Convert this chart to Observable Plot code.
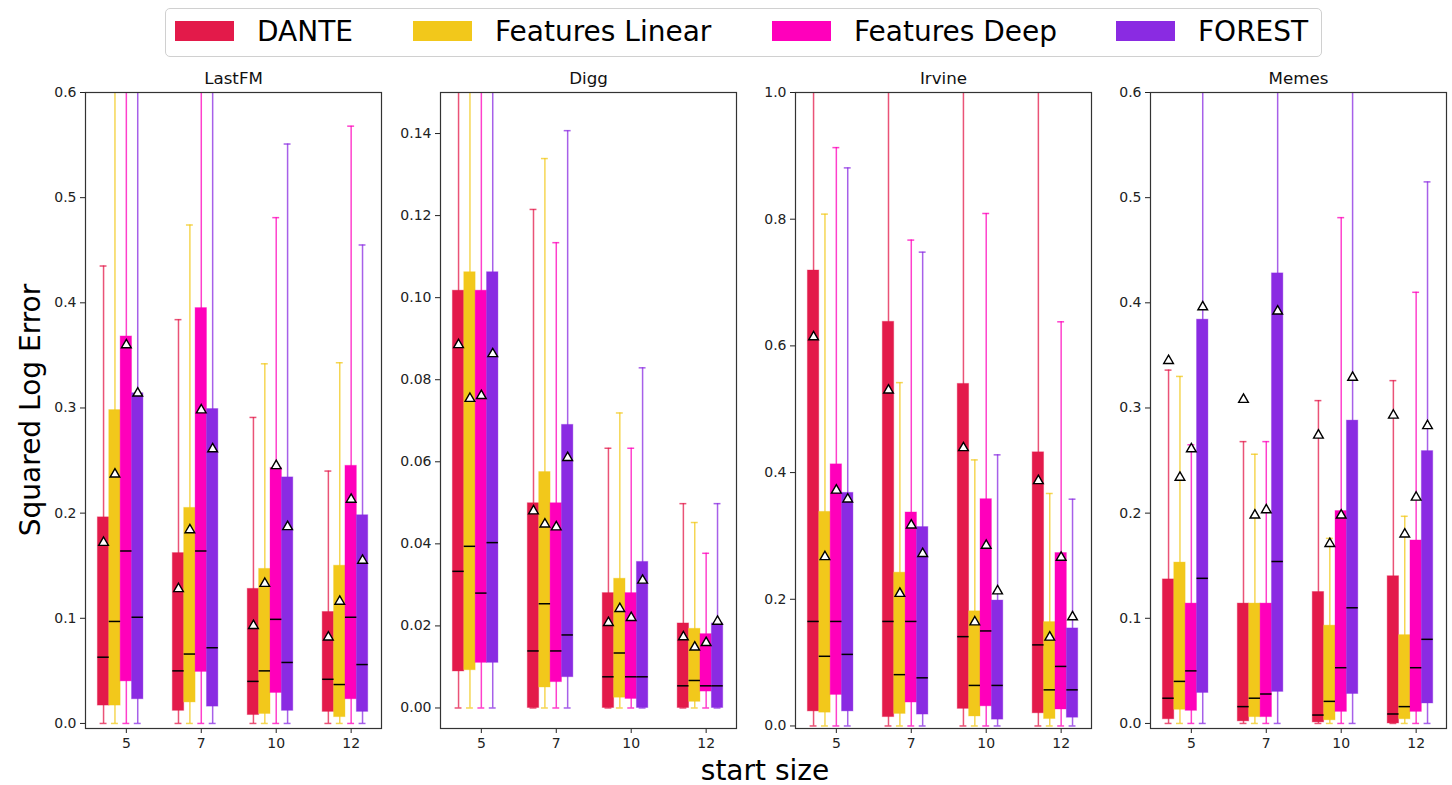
<!DOCTYPE html>
<html>
<head>
<meta charset="utf-8">
<script src="https://cdn.jsdelivr.net/npm/d3@7"></script>
<script src="https://cdn.jsdelivr.net/npm/@observablehq/plot@0.6"></script>
<style>
  html, body { margin: 0; padding: 0; background: #fff; }
  #root { position: relative; width: 1452px; height: 785px; font-family: "DejaVu Sans", sans-serif; color: #000; overflow: hidden; }
  .panel { position: absolute; top: 62px; }
  .legend { position: absolute; left: 165px; top: 8px; width: 1155px; height: 47px; border: 1px solid #d0d0d0; border-radius: 5px; box-sizing: content-box; }
  .sw { position: absolute; top: 12px; width: 59px; height: 20px; }
  .lt { position: absolute; top: 23px; transform: translateY(-50%); font-size: 28px; line-height: 1; white-space: nowrap; }
  .ylab { position: absolute; left: 30px; top: 410px; transform: translate(-50%, -50%) rotate(-90deg); font-size: 28px; white-space: nowrap; }
  .xlab { position: absolute; left: 765px; top: 770px; transform: translate(-50%, -50%); font-size: 28px; white-space: nowrap; }
</style>
</head>
<body>
<div id="root"></div>
<script>
// ---------------- data ----------------
const sizes = [5, 7, 10, 12];
const seriesNames = ["DANTE", "Features Linear", "Features Deep", "FOREST"];
const seriesColors = ["#e31a4a", "#f2c81b", "#ff00bb", "#8a2be2"];
const datasetNames = ["LastFM", "Digg", "Irvine", "Memes"];

// values ordered: size 5 (DANTE, Linear, Deep, FOREST), size 7 (...), size 10 (...), size 12 (...)
const whiskerLo = [0,0,0,0, 0,0,0,0, 0,0,0,0, 0,0,0,0];

const lastfmQ1   = [0.017,0.017,0.040,0.023, 0.012,0.020,0.049,0.016, 0.008,0.009,0.029,0.012, 0.011,0.006,0.023,0.011];
const lastfmMed  = [0.063,0.097,0.164,0.101, 0.050,0.066,0.164,0.072, 0.040,0.050,0.099,0.058, 0.042,0.037,0.101,0.056];
const lastfmQ3   = [0.196,0.298,0.368,0.314, 0.162,0.205,0.395,0.299, 0.128,0.147,0.243,0.234, 0.106,0.150,0.245,0.198];
const lastfmHi   = [0.435,0.700,0.700,0.700, 0.384,0.474,0.700,0.700, 0.291,0.342,0.481,0.551, 0.240,0.343,0.568,0.455];
const lastfmMean = [0.172,0.237,0.360,0.314, 0.128,0.184,0.298,0.261, 0.093,0.133,0.245,0.187, 0.082,0.116,0.213,0.155];

const diggQ1   = [0.0089,0.0092,0.0110,0.0110, 0.0000,0.0050,0.0063,0.0075, 0.0000,0.0025,0.0022,0.0000, 0.0000,0.0015,0.0040,0.0000];
const diggMed  = [0.0333,0.0394,0.0280,0.0403, 0.0139,0.0254,0.0139,0.0178, 0.0076,0.0134,0.0076,0.0076, 0.0054,0.0067,0.0054,0.0054];
const diggQ3   = [0.1017,0.1062,0.1017,0.1062, 0.0499,0.0575,0.0499,0.0690, 0.0280,0.0315,0.0280,0.0356, 0.0206,0.0193,0.0180,0.0206];
const diggHi   = [0.2000,0.2000,0.2000,0.2000, 0.1215,0.1339,0.1134,0.1407, 0.0633,0.0719,0.0633,0.0829, 0.0498,0.0452,0.0377,0.0498];
const diggMean = [0.0885,0.0754,0.0761,0.0863, 0.0480,0.0448,0.0441,0.0610, 0.0208,0.0242,0.0220,0.0311, 0.0173,0.0148,0.0159,0.0211];

const irvineQ1   = [0.023,0.021,0.049,0.023, 0.014,0.019,0.037,0.018, 0.027,0.015,0.031,0.010, 0.020,0.011,0.026,0.013];
const irvineMed  = [0.165,0.110,0.165,0.113, 0.165,0.081,0.165,0.076, 0.141,0.064,0.150,0.064, 0.128,0.057,0.094,0.057];
const irvineQ3   = [0.719,0.338,0.413,0.368, 0.638,0.242,0.337,0.314, 0.540,0.181,0.358,0.198, 0.432,0.164,0.273,0.154];
const irvineHi   = [1.200,0.808,0.913,0.881, 1.200,0.542,0.767,0.748, 1.200,0.420,0.809,0.428, 1.200,0.367,0.638,0.358];
const irvineMean = [0.614,0.267,0.372,0.358, 0.530,0.209,0.317,0.272, 0.439,0.164,0.285,0.213, 0.387,0.140,0.266,0.172];

const memesQ1   = [0.004,0.013,0.012,0.029, 0.002,0.006,0.006,0.030, 0.001,0.003,0.011,0.028, 0.000,0.004,0.011,0.019];
const memesMed  = [0.024,0.040,0.050,0.138, 0.016,0.024,0.028,0.154, 0.008,0.021,0.053,0.110, 0.009,0.016,0.053,0.080];
const memesQ3   = [0.137,0.153,0.114,0.384, 0.114,0.114,0.114,0.428, 0.125,0.093,0.202,0.288, 0.140,0.084,0.174,0.259];
const memesHi   = [0.336,0.330,0.265,0.700, 0.268,0.256,0.268,0.700, 0.307,0.176,0.481,0.700, 0.326,0.197,0.410,0.515];
const memesMean = [0.345,0.234,0.261,0.396, 0.308,0.198,0.203,0.392, 0.274,0.171,0.198,0.329, 0.293,0.180,0.215,0.283];

const lastfmTicks = [0, 0.1, 0.2, 0.3, 0.4, 0.5, 0.6];
const diggTicks   = [0, 0.02, 0.04, 0.06, 0.08, 0.10, 0.12, 0.14];
const irvineTicks = [0, 0.2, 0.4, 0.6, 0.8, 1.0];
const memesTicks  = [0, 0.1, 0.2, 0.3, 0.4, 0.5, 0.6];

// ---------------- build ----------------
const panels = [
  {name: datasetNames[0], q1: lastfmQ1, med: lastfmMed, q3: lastfmQ3, hi: lastfmHi, mean: lastfmMean, ticks: lastfmTicks, fmt: ".1f", ydom: [-0.0048, 0.6], left: 35},
  {name: datasetNames[1], q1: diggQ1, med: diggMed, q3: diggQ3, hi: diggHi, mean: diggMean, ticks: diggTicks, fmt: ".2f", ydom: [-0.005, 0.15], left: 390},
  {name: datasetNames[2], q1: irvineQ1, med: irvineMed, q3: irvineQ3, hi: irvineHi, mean: irvineMean, ticks: irvineTicks, fmt: ".1f", ydom: [-0.004, 1.0], left: 745},
  {name: datasetNames[3], q1: memesQ1, med: memesMed, q3: memesQ3, hi: memesHi, mean: memesMean, ticks: memesTicks, fmt: ".1f", ydom: [-0.0048, 0.6], left: 1100}
];

const bw = 0.152;   // box width in group units
const cw = 0.046;   // half cap width

const root = document.getElementById("root");

// legend
const legend = document.createElement("div");
legend.className = "legend";
const swLeft = [9, 247, 606, 950];
seriesNames.forEach((n, i) => {
  const sw = document.createElement("div");
  sw.className = "sw";
  sw.style.left = swLeft[i] + "px";
  sw.style.background = seriesColors[i];
  legend.appendChild(sw);
  const t = document.createElement("div");
  t.className = "lt";
  t.style.left = (swLeft[i] + 82) + "px";
  t.textContent = n;
  legend.appendChild(t);
});
root.appendChild(legend);

panels.forEach(p => {
  const rows = p.q1.map((_, i) => {
    const g = Math.floor(i / 4), s = i % 4;
    return {
      series: seriesNames[s],
      x: g + (s - 2) * bw,
      lo: whiskerLo[i], q1: p.q1[i], med: p.med[i], q3: p.q3[i], hi: p.hi[i], mean: p.mean[i]
    };
  });
  const fmt = d3.format(p.fmt);
  const chart = Plot.plot({
    width: 352,
    height: 710,
    marginLeft: 50,
    marginRight: 6,
    marginTop: 30,
    marginBottom: 44,
    style: {background: "transparent", fontFamily: "DejaVu Sans, sans-serif", fontSize: "14px", color: "#222"},
    x: {domain: [-0.545, 3.405], axis: null},
    y: {domain: p.ydom, axis: null},
    color: {domain: seriesNames, range: seriesColors},
    marks: [
      Plot.ruleX(rows, {x: "x", y1: "lo", y2: "hi", stroke: "series", strokeOpacity: 0.75, strokeWidth: 1.5, clip: true}),
      Plot.ruleY(rows, {y: "lo", x1: d => d.x - cw, x2: d => d.x + cw, stroke: "series", strokeOpacity: 0.75, strokeWidth: 1.5, clip: true}),
      Plot.ruleY(rows, {y: "hi", x1: d => d.x - cw, x2: d => d.x + cw, stroke: "series", strokeOpacity: 0.75, strokeWidth: 1.5, clip: true}),
      Plot.rect(rows, {x1: d => d.x - bw / 2, x2: d => d.x + bw / 2, y1: "q1", y2: "q3", fill: "series", stroke: "series", strokeOpacity: 0.35, strokeWidth: 1, clip: true}),
      Plot.ruleY(rows, {y: "med", x1: d => d.x - bw / 2, x2: d => d.x + bw / 2, stroke: "black", strokeWidth: 1.5}),
      Plot.dot(rows, {x: "x", y: "mean", symbol: "triangle", r: 3.6, fill: "white", stroke: "black", strokeWidth: 1.4}),
      Plot.axisY({ticks: p.ticks, tickFormat: fmt, tickSize: 5, tickPadding: 4, fontSize: 14, label: null}),
      Plot.axisX({ticks: [0, 1, 2, 3], tickFormat: i => sizes[i], tickSize: 5, tickPadding: 5, fontSize: 14, label: null}),
      Plot.frame({stroke: "#333", strokeWidth: 1.2}),
      Plot.text([p.name], {frameAnchor: "top", text: d => d, dy: -14, fontSize: 16.7, lineAnchor: "middle", fill: "#111"})
    ]
  });
  chart.classList.add("panel");
  chart.style.left = p.left + "px";
  root.appendChild(chart);
});

const yl = document.createElement("div");
yl.className = "ylab";
yl.textContent = "Squared Log Error";
root.appendChild(yl);
const xl = document.createElement("div");
xl.className = "xlab";
xl.textContent = "start size";
root.appendChild(xl);
</script>
</body>
</html>
